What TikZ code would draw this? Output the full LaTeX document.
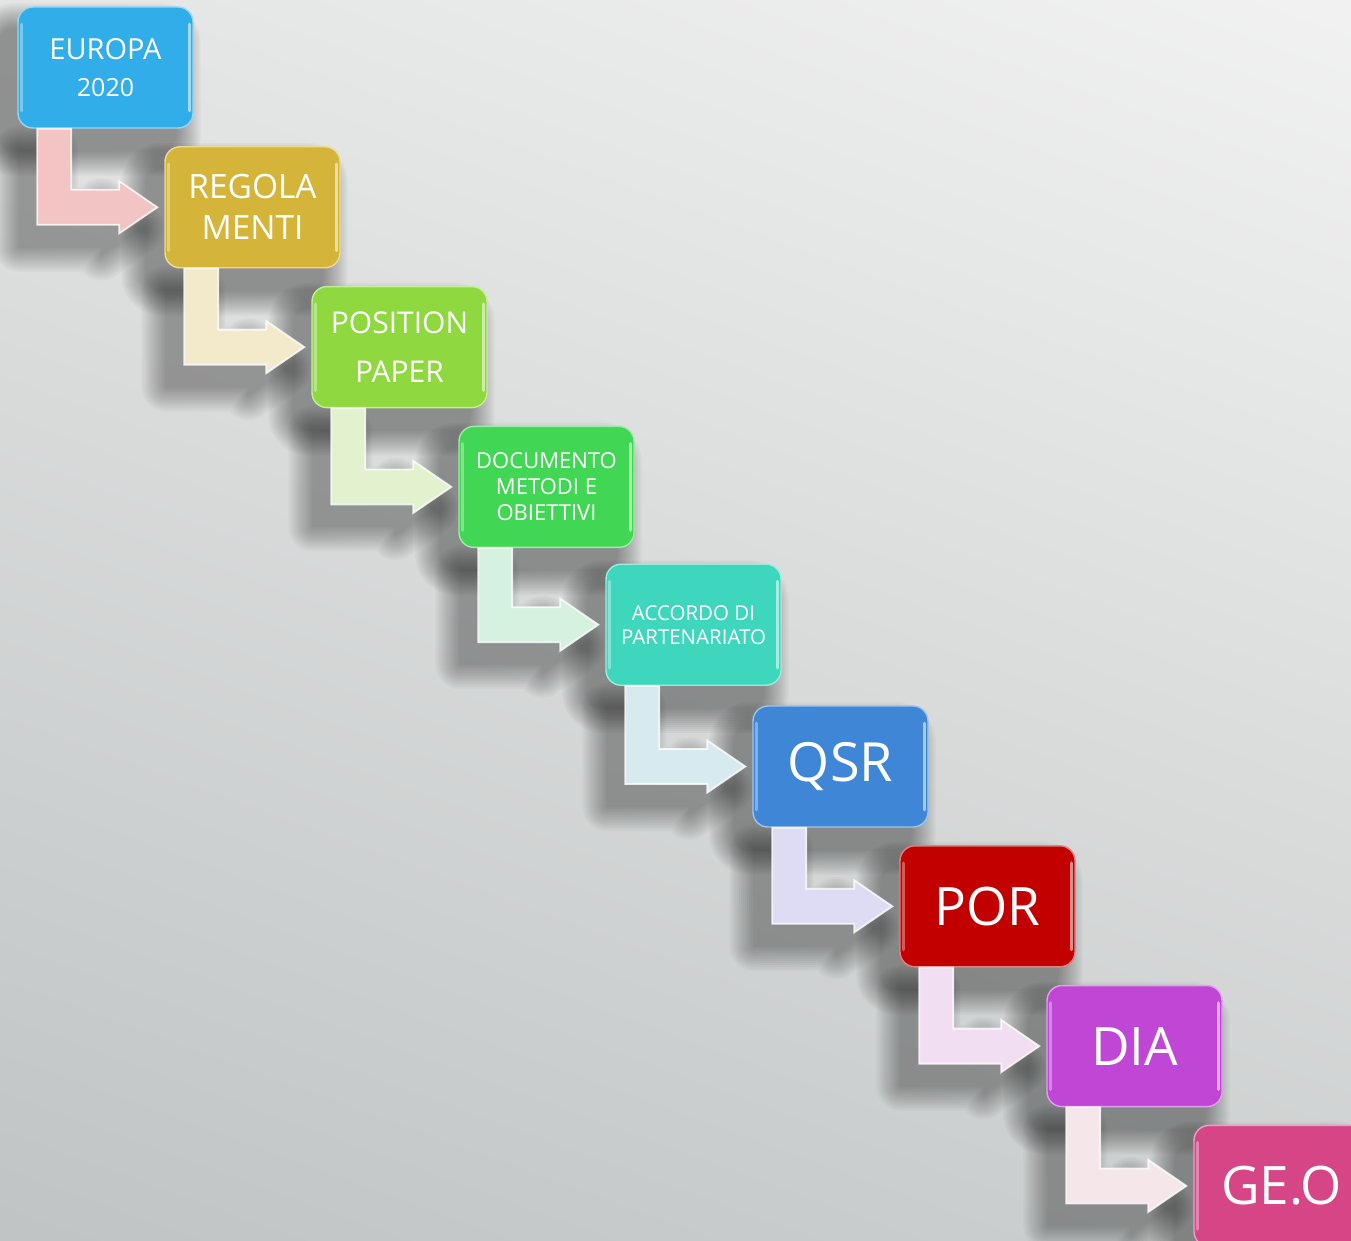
\documentclass[tikz,border=0pt]{standalone}
\usepackage{fontspec}
\setmainfont{Open Sans}
\usetikzlibrary{calc}

\pgfdeclarelayer{bg}
\pgfdeclarelayer{shadow}
\pgfsetlayers{bg,shadow,main}

% box colours
\definecolor{boxA}{HTML}{31ADEA}
\definecolor{boxB}{HTML}{D4B53A}
\definecolor{boxC}{HTML}{8FD83F}
\definecolor{boxD}{HTML}{41D653}
\definecolor{boxE}{HTML}{3ED6BD}
\definecolor{boxF}{HTML}{3F87D6}
\definecolor{boxG}{HTML}{C20000}
\definecolor{boxH}{HTML}{C046D6}
\definecolor{boxI}{HTML}{D64585}
% arrow colours
\definecolor{arrA}{HTML}{F2C4C4}
\definecolor{arrB}{HTML}{F2EACB}
\definecolor{arrC}{HTML}{E2F2CE}
\definecolor{arrD}{HTML}{D5F2DF}
\definecolor{arrE}{HTML}{D6EAF0}
\definecolor{arrF}{HTML}{DEDCF4}
\definecolor{arrG}{HTML}{F2DEF2}
\definecolor{arrH}{HTML}{F5E6EA}
% background
\definecolor{bgTop}{HTML}{F2F2F2}
\definecolor{bgMid}{HTML}{E3E4E4}
\definecolor{bgBot}{HTML}{BFC3C3}

\newcommand\boxfont[2]{\fontsize{#1}{#2}\selectfont}
\newcommand\arrowshape[2]{(#1) -- ++(34,0) |- ($(#2)+(-38,-17.5)$) -- ++(0,-8.5) -- (#2) -- ++(-38,26) -- ++(0,-8.5) -| (#1) -- cycle}

\tikzset{
  stepbox/.style={rounded corners=15pt, minimum width=175pt, minimum height=121pt,
    inner sep=0pt, align=center, text=white, fill=#1, draw=#1!50!white, line width=1.4pt},
  steparrow/.style={fill=#1, draw=white, draw opacity=.8, line width=1.8pt, line join=miter},
  shadowcopy/.style={fill=black, draw=black, line join=round, line width=#1}
}

\begin{document}
\begin{tikzpicture}[x=1pt,y=-1pt]
\useasboundingbox (0,0) rectangle (1351,1241);

\begin{pgfonlayer}{bg}
  \shade[top color=bgTop, middle color=bgMid, bottom color=bgBot, shading angle=-20]
    (-200,-200) rectangle (1551,1441);
\end{pgfonlayer}

% the steps
\node[stepbox=boxA, font=\boxfont{29}{37}] (europa)    at (105.5,67.5)   {EUROPA\\{\boxfont{25}{37}2020}};
\node[stepbox=boxB, font=\boxfont{33.5}{41}] (regola)  at (252.5,207.3)  {REGOLA\\MENTI};
\node[stepbox=boxC, font=\boxfont{30}{49}] (position)  at (399.5,347.1)  {POSITION\\PAPER};
\node[stepbox=boxD, font=\boxfont{22}{26}] (documento) at (546.5,486.9)  {DOCUMENTO\\METODI E\\OBIETTIVI};
\node[stepbox=boxE, font=\boxfont{20.5}{24}] (accordo) at (693.5,624.7)  {ACCORDO DI\\PARTENARIATO};
\node[stepbox=boxF, font=\boxfont{54}{60}] (qsr)       at (840.5,766.5)  {QSR};
\node[stepbox=boxG, font=\boxfont{53}{60}] (por)       at (987.5,906.3)  {POR};
\node[stepbox=boxH, font=\boxfont{53}{60}] (dia)       at (1134.5,1046.1) {DIA};
\node[stepbox=boxI, font=\boxfont{53}{60}] (geo)       at (1281.5,1185.9) {GE.O};

% bevel highlights and shadows of the boxes
\foreach \n in {europa,regola,position,documento,accordo,qsr,por,dia,geo}{
  \draw[white, opacity=.35, line width=3.5pt, line cap=round]
    ($(\n.north west)+(4,18)$) -- ($(\n.south west)+(4,-18)$);
  \draw[white, opacity=.55, line width=3.5pt, line cap=round]
    ($(\n.north east)+(-4,18)$) -- ($(\n.south east)+(-4,-18)$);
  \begin{pgfonlayer}{shadow}
    \foreach \w in {2,6,...,50}{
      \begin{scope}[transparency group, opacity=.03]
        \filldraw[shadowcopy=\w pt, rounded corners=15pt]
          ($(\n.north west)+(-18,22)$) rectangle ($(\n.south east)+(-18,22)$);
      \end{scope}}
  \end{pgfonlayer}
}

% bent arrows from one step to the next
\foreach \a/\b/\c in {europa/regola/arrA, regola/position/arrB, position/documento/arrC,
    documento/accordo/arrD, accordo/qsr/arrE, qsr/por/arrF, por/dia/arrG, dia/geo/arrH}{
  \coordinate (s) at ($(\a.south west)+(20,0)$);
  \coordinate (t) at ($(\b.west)+(-7,0)$);
  \coordinate (ss) at ($(s)+(-18,22)$);
  \coordinate (tt) at ($(t)+(-18,22)$);
  \begin{pgfonlayer}{shadow}
    \foreach \w in {2,6,...,50}{
      \begin{scope}[transparency group, opacity=.028]
        \filldraw[shadowcopy=\w pt] \arrowshape{ss}{tt};
      \end{scope}}
  \end{pgfonlayer}
  \filldraw[steparrow=\c] \arrowshape{s}{t};
}

\end{tikzpicture}
\end{document}
